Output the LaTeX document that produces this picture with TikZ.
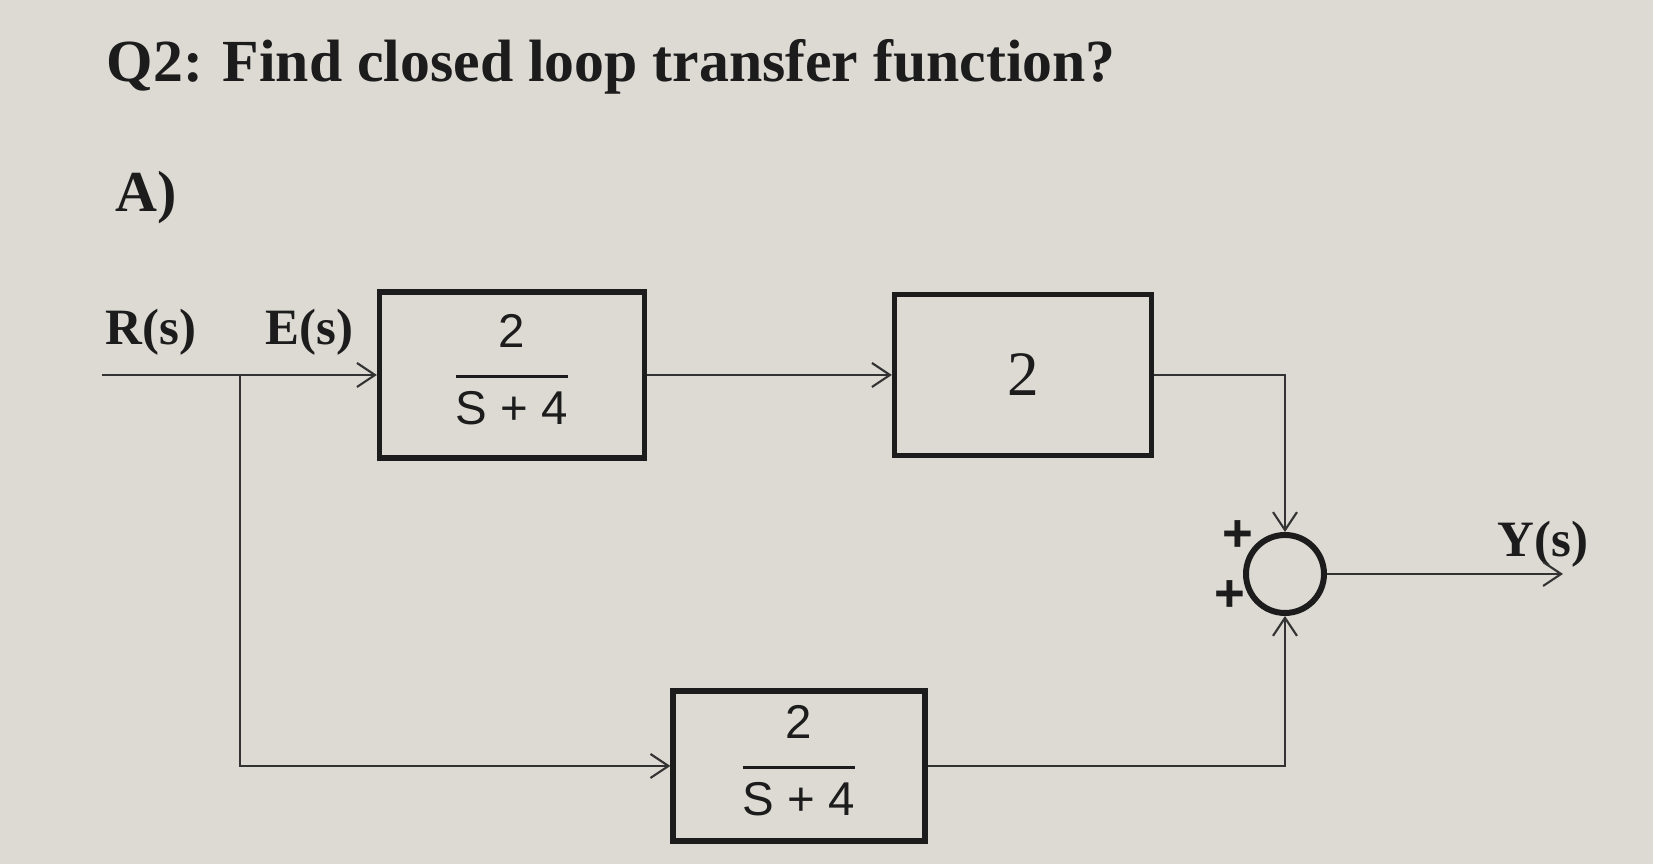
\documentclass[tikz,border=0pt]{standalone}
\usepackage{fontspec}
\usepackage{tikz}
\usetikzlibrary{positioning,shapes,arrows.meta}
\setmainfont{Liberation Serif}
\newfontfamily\sansfont{Liberation Sans}
\definecolor{paper}{RGB}{221,218,211}
\definecolor{ink}{RGB}{28,28,28}
\setlength{\arrayrulewidth}{0.9pt}
\newcommand{\blockfrac}[2]{\sansfont\fontsize{13.5}{15}\selectfont\begin{tabular}{@{}c@{}}#1\\[1.2mm]\hline\rule{0pt}{4.6mm}#2\end{tabular}}

\begin{document}
\begin{tikzpicture}
	\tikzset{block style/.style={draw=ink, line width=1.5pt, inner sep=0pt, text=ink},
	         flow/.style={draw=ink!90, line width=0.6pt, -{Straight Barb[length=1.8mm,width=2.4mm]}},
	         label style/.style={anchor=base west, inner sep=0pt, text=ink, font=\bfseries\fontsize{14.5}{16}\selectfont},
	         sign style/.style={text=ink, inner sep=0pt, font=\sansfont\bfseries\fontsize{15}{16}\selectfont}}
	\fill[paper] (0,0) rectangle (16.53,8.64);
	\useasboundingbox (0,0) rectangle (16.53,8.64);
	% title
	\node[label style, font=\bfseries\fontsize{17}{19}\selectfont] (title) at (1.06,7.82) {Q2: Find closed loop transfer function?};
	\node[label style, font=\bfseries\fontsize{16.5}{18}\selectfont] (part) at (1.15,6.52) {A)};
	% blocks
	\node[block style, minimum width=2.65cm, minimum height=1.66cm] (b1) at (5.12,4.89) {\blockfrac{2}{S + 4}};
	\node[block style, minimum width=2.57cm, minimum height=1.61cm, font=\fontsize{18}{20}\selectfont] (b2) at (10.23,4.89) {2};
	\node[block style, minimum width=2.52cm, minimum height=1.50cm] (b3) at (7.99,0.98) {\blockfrac{2}{S + 4}};
	\node[circle, draw=ink, line width=1.7pt, minimum size=0.78cm, inner sep=0pt] (sum) at (12.85,2.90) {};
	\coordinate (in) at (1.02,4.89);
	\coordinate (split) at (2.40,4.89);
	\coordinate (out) at (15.63,2.90);
	% signals
	\node[label style] (r) at (1.05,5.19) {R(s)};
	\node[label style] (e) at (2.65,5.19) {E(s)};
	\node[label style] (y) at (14.97,3.07) {Y(s)};
	\node[sign style] (p1) at (12.38,3.28) {+};
	\node[sign style] (p2) at (12.30,2.68) {+};
	\draw[flow] (in) -- (b1.west);
	\draw[flow] (b1) -- (b2);
	\draw[flow] (split) |- (b3.west);
	\draw[flow] (b2.east) -| (sum.north);
	\draw[flow] (b3.east) -| (sum.south);
	\draw[flow] (sum.east) -- (out);
\end{tikzpicture}
\end{document}
